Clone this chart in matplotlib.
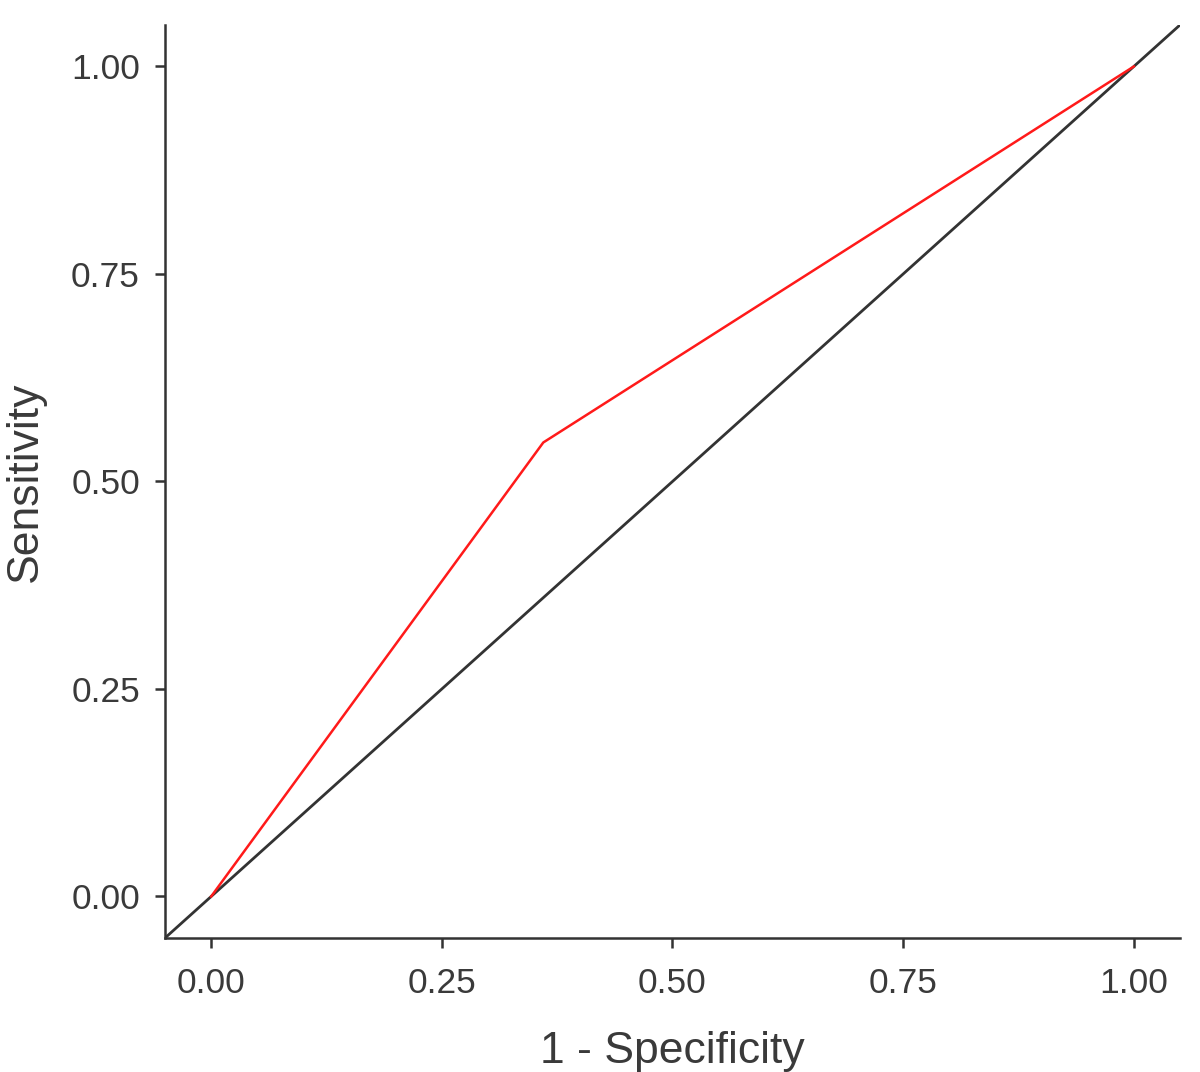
import matplotlib
matplotlib.use("Agg")
import matplotlib.pyplot as plt

# ROC curve points (1 - specificity, sensitivity)
fpr = [0.0, 0.36, 1.0]
tpr = [0.0, 0.547, 1.0]
ticks = [0.0, 0.25, 0.5, 0.75, 1.0]
tick_labels = ["0.00", "0.25", "0.50", "0.75", "1.00"]

plt.rcParams["font.family"] = ["Liberation Sans", "DejaVu Sans"]

fig = plt.figure(figsize=(12, 10.72), dpi=100)
ax = fig.add_axes([0.1375, 0.125, 0.8458, 0.8517])

ax.axline((0, 0), (1, 1), color="#333333", linewidth=2.0)
ax.plot(fpr, tpr, color="#ff1a1a", linewidth=1.8)

ax.set_xlim(-0.05, 1.05)
ax.set_ylim(-0.05, 1.05)
ax.set_xticks(ticks)
ax.set_xticklabels(tick_labels)
ax.set_yticks(ticks)
ax.set_yticklabels(tick_labels)

for side in ["top", "right"]:
    ax.spines[side].set_visible(False)
for side in ["left", "bottom"]:
    ax.spines[side].set_linewidth(1.8)
    ax.spines[side].set_color("#333333")

ax.tick_params(axis="both", length=7, width=1.8, color="#333333",
               labelsize=25.5, labelcolor="#3a3a3a")
ax.tick_params(axis="y", pad=11)
ax.tick_params(axis="x", pad=14)

ax.set_xlabel("1 - Specificity", fontsize=32, color="#3a3a3a", labelpad=22)
ax.set_ylabel("Sensitivity", fontsize=32, color="#3a3a3a", labelpad=18)

fig.savefig("out.png", dpi=100)
